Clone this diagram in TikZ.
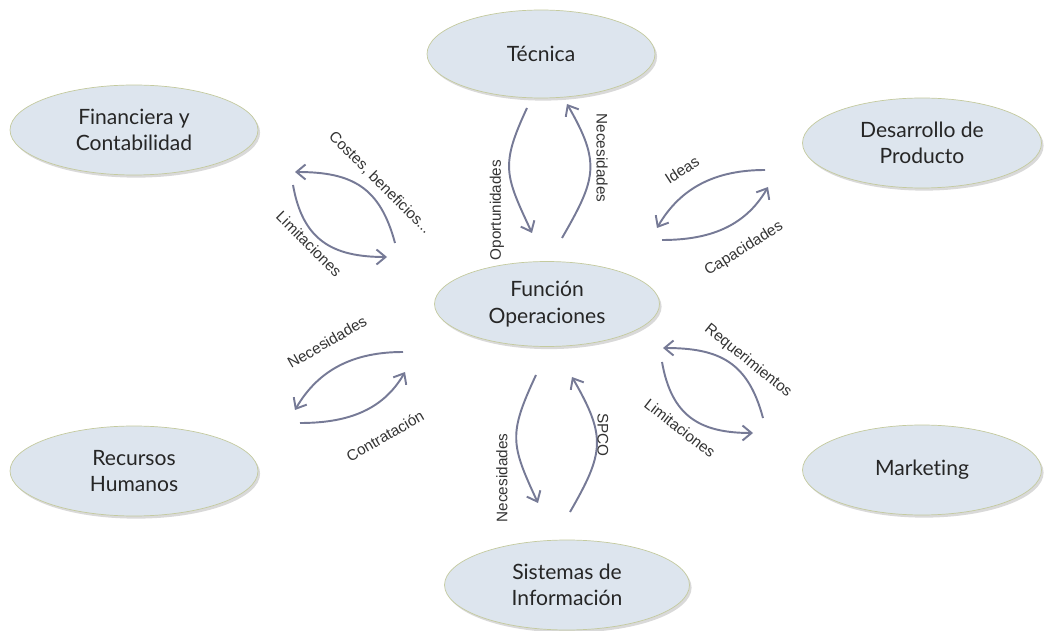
\documentclass[tikz,border=0pt]{standalone}
\usepackage{fontspec}
\setmainfont{Lato}[Ligatures=NoCommon]
\newfontfamily\lblfont{Liberation Sans}
\usetikzlibrary{shapes,arrows,arrows.meta,positioning,shadows}
\definecolor{areafill}{RGB}{221,229,238}
\definecolor{areadraw}{RGB}{196,202,158}
\definecolor{flowcol}{RGB}{118,122,150}

\begin{document}
\begin{tikzpicture}[x=0.02cm,y=0.02cm,>={Straight Barb[length=1.8mm,width=3mm]},
  area/.style={ellipse,draw=areadraw,fill=areafill,align=center,text=black!85,
    font=\fontsize{12}{15}\selectfont,
    drop shadow={opacity=0.3,shadow xshift=1.2pt,shadow yshift=-1.5pt}},
  lbl/.style={font=\lblfont\fontsize{8.7}{10}\selectfont,text=black!80,inner sep=0pt},
  flow/.style={->,draw=flowcol,line width=1.1pt}]
  \useasboundingbox (0,0) rectangle (1045,-631);

  \node[area,minimum width=4.56cm,minimum height=1.76cm] (tec) at (541,-54) {Técnica};
  \node[area,minimum width=4.96cm,minimum height=1.8cm] (fin) at (134,-130) {Financiera y\\ Contabilidad};
  \node[area,minimum width=4.78cm,minimum height=1.8cm] (des) at (922,-143) {Desarrollo de\\ Producto};
  \node[area,minimum width=4.5cm,minimum height=1.7cm] (fo) at (547,-304) {Función\\ Operaciones};
  \node[area,minimum width=4.96cm,minimum height=1.8cm] (rh) at (134,-471) {Recursos\\ Humanos};
  \node[area,minimum width=4.78cm,minimum height=1.8cm] (mk) at (922,-470) {Marketing};
  \node[area,minimum width=4.9cm,minimum height=1.8cm] (si) at (567,-585) {Sistemas de\\ Información};

  \coordinate (t1) at (527,-108); \coordinate (t2) at (532,-233);
  \coordinate (t3) at (562,-238); \coordinate (t4) at (567,-104);
  \coordinate (f1) at (395,-243); \coordinate (f2) at (295,-172);
  \coordinate (f3) at (293,-185); \coordinate (f4) at (387,-257);
  \coordinate (d1) at (765,-170); \coordinate (d2) at (657,-228);
  \coordinate (d3) at (662,-240); \coordinate (d4) at (768,-187);
  \coordinate (r1) at (403,-352); \coordinate (r2) at (295,-410);
  \coordinate (r3) at (300,-423); \coordinate (r4) at (405,-372);
  \coordinate (m1) at (763,-418); \coordinate (m2) at (663,-348);
  \coordinate (m3) at (662,-362); \coordinate (m4) at (753,-433);
  \coordinate (s1) at (536,-375); \coordinate (s2) at (538,-503);
  \coordinate (s3) at (570,-512); \coordinate (s4) at (572,-377);

  \draw[flow] (t1) to[out=245,in=115,looseness=1.3] (t2);
  \draw[flow] (t3) to[out=60,in=-60,looseness=1.3] (t4);
  \draw[flow] (f1) to[out=105,in=0,looseness=1.2] (f2);
  \draw[flow] (f3) to[out=-80,in=180,looseness=1.2] (f4);
  \draw[flow] (d1) to[out=180,in=60] (d2);
  \draw[flow] (d3) to[out=0,in=240] (d4);
  \draw[flow] (r1) to[out=180,in=60] (r2);
  \draw[flow] (r3) to[out=0,in=240] (r4);
  \draw[flow] (m1) to[out=105,in=0,looseness=1.2] (m2);
  \draw[flow] (m3) to[out=-80,in=180,looseness=1.2] (m4);
  \draw[flow] (s1) to[out=245,in=115,looseness=1.3] (s2);
  \draw[flow] (s3) to[out=60,in=-60,looseness=1.3] (s4);

  \node[lbl,rotate=90] (opo) at (497,-210) {Oportunidades};
  \node[lbl,rotate=-90] (nec1) at (602,-158) {Necesidades};
  \node[lbl,rotate=-45] (cos) at (380,-183) {Costes, beneficios...};
  \node[lbl,rotate=-45] (lim1) at (309,-244) {Limitaciones};
  \node[lbl,rotate=33] (ide) at (682,-170) {Ideas};
  \node[lbl,rotate=32] (cap) at (744,-249) {Capacidades};
  \node[lbl,rotate=30] (nec2) at (327,-342) {Necesidades};
  \node[lbl,rotate=30] (con) at (385,-436) {Contratación};
  \node[lbl,rotate=-39] (req) at (748,-361) {Requerimientos};
  \node[lbl,rotate=-38] (lim2) at (680,-428) {Limitaciones};
  \node[lbl,rotate=90] (nec3) at (502,-478) {Necesidades};
  \node[lbl,rotate=-90] (spc) at (603,-435) {SPCO};
\end{tikzpicture}
\end{document}
